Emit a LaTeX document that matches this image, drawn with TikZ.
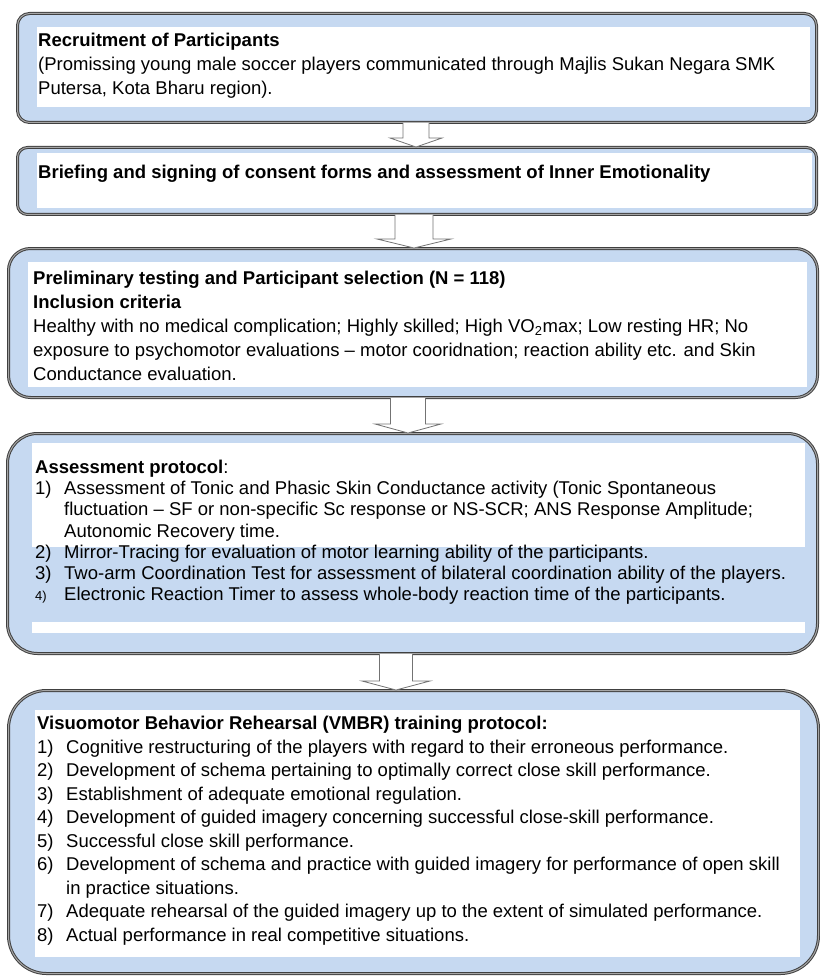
\documentclass[tikz,border=0pt]{standalone}
\usepackage{fontspec}
\setmainfont{Liberation Sans}
\usetikzlibrary{calc}
\definecolor{boxblue}{RGB}{198,217,241}
\newlength\numwd
\setlength\numwd{29pt}
\newcommand{\itm}[2]{\makebox[\numwd][l]{#1}#2}
\newcommand{\cont}{\hspace*{\numwd}}
% hollow block arrow: from, to, x, shaft half width, head half width
\newcommand{\blockdown}[5]{%
  \fill[white] (#3-#4,0 |- #1.south) -- ($(#3-#4,0 |- #2.north)+(0,-9)$) -- ($(#3-#5,0 |- #2.north)+(0,-9)$)
    -- (#3,0 |- #2.north) -- ($(#3+#5,0 |- #2.north)+(0,-9)$) -- ($(#3+#4,0 |- #2.north)+(0,-9)$)
    -- (#3+#4,0 |- #1.south) -- cycle;
  \draw[flowarrow] (#3-#4,0 |- #1.south) -- ($(#3-#4,0 |- #2.north)+(0,-9)$) -- ($(#3-#5,0 |- #2.north)+(0,-9)$)
    -- (#3,0 |- #2.north) -- ($(#3+#5,0 |- #2.north)+(0,-9)$) -- ($(#3+#4,0 |- #2.north)+(0,-9)$)
    -- (#3+#4,0 |- #1.south);}

\begin{document}
\begin{tikzpicture}[x=1pt,y=-1pt,
  stagebox/.style={draw=black!75,double=black!35,double distance=1pt,line width=1pt,
    fill=boxblue,inner sep=0pt,anchor=north west},
  whitearea/.style={fill=white},
  stagetext/.style={anchor=north west,inner sep=0pt,align=left,
    font=\fontsize{18.5}{#1}\selectfont},
  stagetext/.default=21.5,
  flowarrow/.style={draw=black!55,line width=0.8pt}]
\useasboundingbox (0,0) rectangle (819,976);

% stages
\node[stagebox,rounded corners=12,minimum width=799,minimum height=109] (b1) at (17,13) {};
\fill[whitearea] (37,27) rectangle (810,107);
\node[stagetext=24] (t1) at (38,30) {\strut\textbf{Recruitment of Participants}\\
  (Promissing young male soccer players communicated through Majlis Sukan Negara SMK\\
  Putersa, Kota Bharu region).};

\node[stagebox,rounded corners=10,minimum width=799,minimum height=67] (b2) at (17,147) {};
\fill[whitearea] (37,153) rectangle (812,208);
\node[stagetext] (t2) at (38,163) {\strut\textbf{Briefing and signing of consent forms and assessment of Inner Emotionality}};

\node[stagebox,rounded corners=22,minimum width=809,minimum height=149] (b3) at (8,248) {};
\fill[whitearea] (28,262) rectangle (807,387);
\node[stagetext=24] (t3) at (33,267) {\strut\textbf{Preliminary testing and Participant selection (N = 118)}\\
  \textbf{Inclusion criteria}\\
  Healthy with no medical complication; Highly skilled; High VO\textsubscript{2}max; Low resting HR; No\\
  exposure to psychomotor evaluations – motor cooridnation; reaction ability etc. and Skin\\
  Conductance evaluation.};

\node[stagebox,rounded corners=30,minimum width=810,minimum height=220] (b4) at (7,433) {};
\fill[whitearea] (32,443) rectangle (805,547);
\fill[whitearea] (32,622) rectangle (805,633);
\node[stagetext=21.3] (t4) at (35,458) {\strut\textbf{Assessment protocol}:\\
  \itm{1)}{Assessment of Tonic and Phasic Skin Conductance activity (Tonic Spontaneous}\\
  \cont fluctuation – SF or non-specific Sc response or NS-SCR; ANS Response Amplitude;\\
  \cont Autonomic Recovery time.\\
  \itm{2)}{Mirror-Tracing for evaluation of motor learning ability of the participants.}\\
  \itm{3)}{Two-arm Coordination Test for assessment of bilateral coordination ability of the players.}\\
  \itm{{\fontsize{13}{21.3}\selectfont 4)}}{Electronic Reaction Timer to assess whole-body reaction time of the participants.}};

\node[stagebox,rounded corners=38,minimum width=810,minimum height=283] (b5) at (8,690) {};
\fill[whitearea] (35,710) rectangle (800,957);
\node[stagetext=23.5] (t5) at (37,713) {\strut\textbf{Visuomotor Behavior Rehearsal (VMBR) training protocol:}\\
  \itm{1)}{Cognitive restructuring of the players with regard to their erroneous performance.}\\
  \itm{2)}{Development of schema pertaining to optimally correct close skill performance.}\\
  \itm{3)}{Establishment of adequate emotional regulation.}\\
  \itm{4)}{Development of guided imagery concerning successful close-skill performance.}\\
  \itm{5)}{Successful close skill performance.}\\
  \itm{6)}{Development of schema and practice with guided imagery for performance of open skill}\\
  \cont in practice situations.\\
  \itm{7)}{Adequate rehearsal of the guided imagery up to the extent of simulated performance.}\\
  \itm{8)}{Actual performance in real competitive situations.}};

% arrows between stages
\blockdown{b1}{b2}{416}{13}{26}
\blockdown{b2}{b3}{414}{19}{37}
\blockdown{b3}{b4}{408}{17.5}{33}
\blockdown{b4}{b5}{396}{16.5}{34}
\end{tikzpicture}
\end{document}
